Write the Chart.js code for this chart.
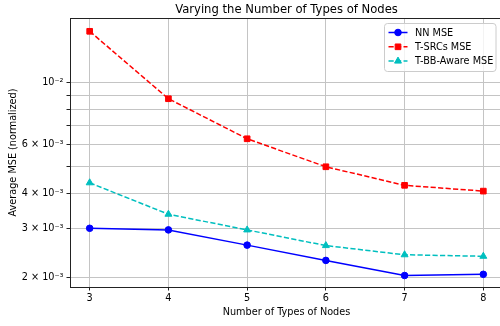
<!DOCTYPE html>
<html>
<head>
<meta charset="utf-8">
<script src="https://cdn.jsdelivr.net/npm/chart.js@4/dist/chart.umd.min.js"></script>
<style>
  html, body { margin: 0; padding: 0; overflow: hidden; background: #fff; }
  #wrap { width: 508px; height: 326px; }
</style>
</head>
<body>
<div id="wrap"><canvas id="mseChart" width="508" height="326"></canvas></div>
<script>
// number of node types on the x axis
const nodeTypes = [3, 4, 5, 6, 7, 8];

// average MSE (normalized) per method
const nnMse       = [3.00e-3, 2.96e-3, 2.61e-3, 2.30e-3, 2.03e-3, 2.05e-3];
const tSrcsMse    = [1.53e-2, 8.76e-3, 6.29e-3, 4.99e-3, 4.28e-3, 4.08e-3];
const tBbAwareMse = [4.37e-3, 3.37e-3, 2.96e-3, 2.60e-3, 2.41e-3, 2.38e-3];

// log axis ticks, only some of them get a label
const yTickValues = [0.002, 0.003, 0.004, 0.005, 0.006, 0.007, 0.008, 0.009, 0.01];
const yTickLabels = ['2 × 10⁻³', '3 × 10⁻³', '4 × 10⁻³', '', '6 × 10⁻³', '', '', '', '10⁻²'];
const xTickValues = [3, 4, 5, 6, 7, 8];

const FONT = 'DejaVu Sans';
const LABEL_SIZE = 9.7;
Chart.defaults.font.family = FONT;
Chart.defaults.color = '#000';

function points(values) {
  return nodeTypes.map((x, i) => ({ x: x, y: values[i] }));
}

// title centred over the plot area
const plotTitle = {
  id: 'plotTitle',
  afterDraw(chart) {
    const ctx = chart.ctx, a = chart.chartArea;
    ctx.save();
    ctx.font = '11.6px "' + FONT + '"';
    ctx.fillStyle = '#000';
    ctx.textAlign = 'center';
    ctx.textBaseline = 'middle';
    ctx.fillText('Varying the Number of Types of Nodes', (a.left + a.right) / 2, 9.5);
    ctx.restore();
  }
};

// top/right spines (left and bottom come from the scale borders)
const frame = {
  id: 'frame',
  afterDatasetsDraw(chart) {
    const ctx = chart.ctx, a = chart.chartArea;
    ctx.save();
    ctx.strokeStyle = '#222';
    ctx.lineWidth = 1;
    ctx.beginPath();
    ctx.moveTo(a.left, a.top + 0.5);
    ctx.lineTo(a.right, a.top + 0.5);
    ctx.moveTo(a.right - 0.5, a.top);
    ctx.lineTo(a.right - 0.5, a.bottom);
    ctx.stroke();
    ctx.restore();
  }
};

// legend box in the upper right corner of the plot
const boxLegend = {
  id: 'boxLegend',
  afterDraw(chart) {
    const ctx = chart.ctx;
    const x0 = 384.5, y0 = 23.5, w = 111.5, h = 48;
    ctx.save();
    ctx.beginPath();
    ctx.roundRect(x0, y0, w, h, 3);
    ctx.fillStyle = 'rgba(255,255,255,0.8)';
    ctx.fill();
    ctx.strokeStyle = '#cccccc';
    ctx.lineWidth = 1;
    ctx.stroke();
    ctx.font = LABEL_SIZE + 'px "' + FONT + '"';
    ctx.textBaseline = 'middle';
    chart.data.datasets.forEach((ds, i) => {
      const cy = 32.5 + i * 14.3;
      ctx.save();
      ctx.strokeStyle = ds.borderColor;
      ctx.lineWidth = ds.borderWidth;
      ctx.setLineDash(ds.borderDash || []);
      ctx.beginPath();
      ctx.moveTo(388.5, cy);
      ctx.lineTo(407.5, cy);
      ctx.stroke();
      ctx.restore();
      ctx.fillStyle = ds.pointBackgroundColor;
      ctx.strokeStyle = ds.pointBorderColor;
      ctx.lineWidth = ds.pointBorderWidth;
      Chart.helpers.drawPoint(ctx, { pointStyle: ds.pointStyle, radius: ds.pointRadius, rotation: 0, borderWidth: ds.pointBorderWidth }, 398, cy);
      ctx.fillStyle = '#000';
      ctx.fillText(ds.label, 415, cy + 0.5);
    });
    ctx.restore();
  }
};

function series(label, values, color, style, radius, dash) {
  return {
    label: label,
    data: points(values),
    borderColor: color,
    backgroundColor: color,
    borderWidth: 1.5,
    borderDash: dash,
    pointStyle: style,
    pointRadius: radius,
    pointHoverRadius: radius,
    pointBackgroundColor: color,
    pointBorderColor: color,
    pointBorderWidth: 1,
    tension: 0,
    fill: false
  };
}

new Chart(document.getElementById('mseChart'), {
  type: 'line',
  data: {
    datasets: [
      series('NN MSE', nnMse, '#0000ff', 'circle', 3.3, []),
      series('T-SRCs MSE', tSrcsMse, '#ff0000', 'rect', 4, [5.2, 2.3]),
      series('T-BB-Aware MSE', tBbAwareMse, '#00bfbf', 'triangle', 4, [5.2, 2.3])
    ]
  },
  options: {
    responsive: false,
    animation: false,
    layout: { padding: { top: 18, left: 0, right: 1, bottom: 0 } },
    plugins: {
      legend: { display: false },
      title: { display: false },
      tooltip: { enabled: false }
    },
    scales: {
      x: {
        type: 'linear',
        min: 2.75,
        max: 8.25,
        afterFit(scale) {
          scale.height = 39;
          scale.paddingLeft = 0;
          scale.paddingRight = 0;
        },
        afterBuildTicks(scale) { scale.ticks = xTickValues.map(v => ({ value: v })); },
        grid: { color: '#c4c4c4', lineWidth: 1, tickLength: 3.5, tickColor: '#222' },
        border: { display: true, color: '#222', width: 1 },
        ticks: { autoSkip: false, maxRotation: 0, padding: 2, font: { size: LABEL_SIZE }, color: '#000' },
        title: {
          display: true,
          text: 'Number of Types of Nodes',
          font: { size: LABEL_SIZE },
          color: '#000',
          padding: { top: 0, bottom: 8 }
        }
      },
      y: {
        type: 'logarithmic',
        min: 1.846e-3,
        max: 1.708e-2,
        afterFit(scale) {
          scale.width = 70;
          scale.paddingTop = 0;
          scale.paddingBottom = 0;
        },
        afterBuildTicks(scale) { scale.ticks = yTickValues.map(v => ({ value: v })); },
        grid: { color: '#c4c4c4', lineWidth: 1, tickLength: 3.5, tickColor: '#222' },
        border: { display: true, color: '#222', width: 1 },
        ticks: {
          autoSkip: false,
          padding: 3,
          font: { size: LABEL_SIZE },
          color: '#000',
          callback: (value, index) => yTickLabels[index]
        },
        title: {
          display: true,
          text: 'Average MSE (normalized)',
          font: { size: LABEL_SIZE },
          color: '#000',
          padding: { top: 8, bottom: 0 }
        }
      }
    }
  },
  plugins: [plotTitle, frame, boxLegend]
});
</script>
</body>
</html>
